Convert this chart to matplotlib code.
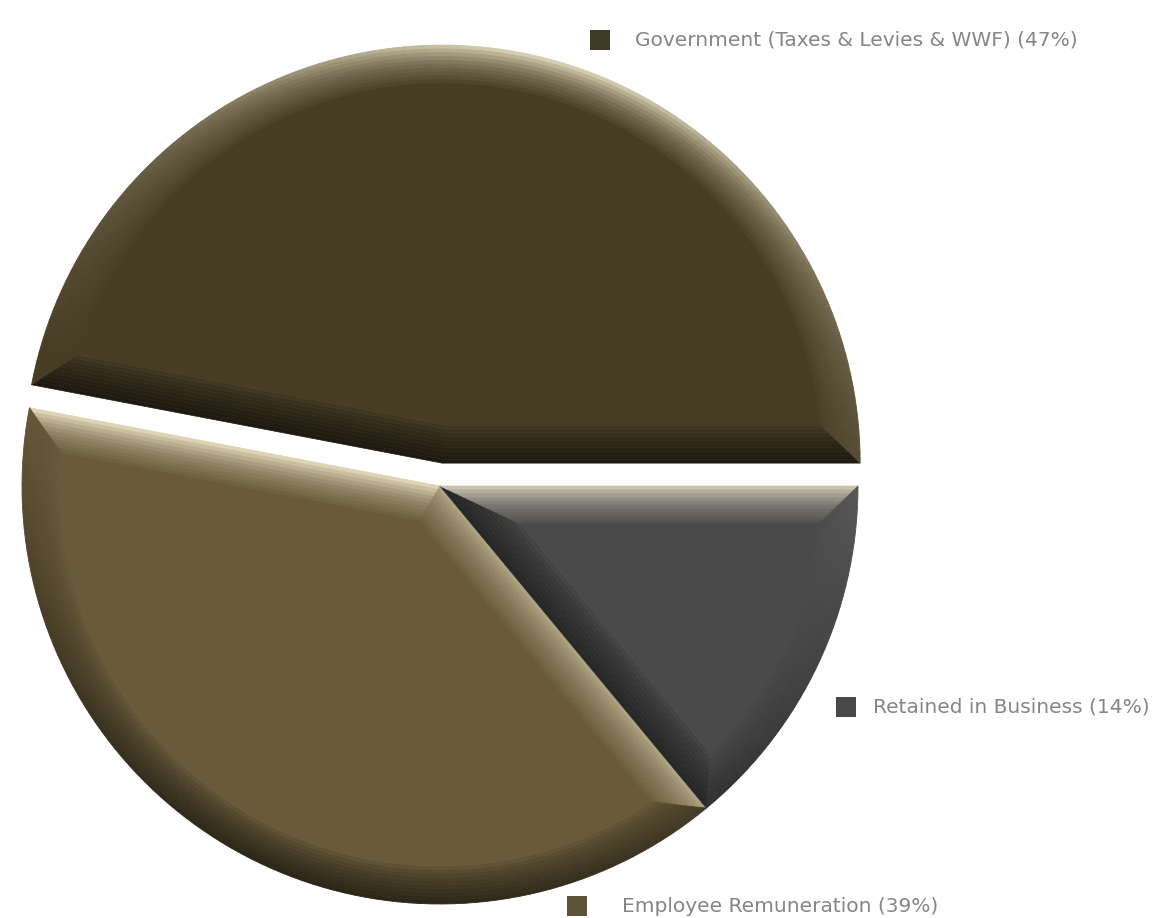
import numpy as np
import matplotlib
matplotlib.use("Agg")
import matplotlib.pyplot as plt
from matplotlib.patches import Polygon, Rectangle
from matplotlib.colors import to_rgb

# ---- data ----
labels = ["Government (Taxes & Levies & WWF) (47%)",
          "Employee Remuneration (39%)",
          "Retained in Business (14%)"]
values = [47, 39, 14]
explode_frac = [0.055, 0.0, 0.0]
colors = ["#473d25", "#695b3a", "#4a4a4b"]
legend_colors = ["#3f3a22", "#5c5338", "#48494b"]

W, H = 1157, 918
fig = plt.figure(figsize=(W / 100, H / 100), dpi=100)
ax = fig.add_axes([0, 0, 1, 1])

center = (440, -486)
radius = 418
wedges, _ = ax.pie(values, colors=colors, startangle=0, counterclock=True,
                   explode=[e * radius for e in explode_frac],
                   center=center, radius=radius,
                   wedgeprops=dict(linewidth=0))
ax.set_xlim(0, W)
ax.set_ylim(-H, 0)
ax.set_aspect("equal")
ax.axis("off")


def unit(a):
    a = np.deg2rad(a)
    return np.array([np.cos(a), np.sin(a)])


def shade(base, normal_deg, strength):
    f = np.cos(np.deg2rad(normal_deg - 75)) * strength
    b = np.array(to_rgb(base))
    if f > 0:
        c = b + (np.array([1.0, 0.97, 0.85]) - b) * (0.30 * f + 0.55 * f ** 4)
    else:
        c = b * (1 + 0.6 * f)
    return np.clip(c, 0, 1)


def inset(c, r, t1, t2, d):
    half = np.deg2rad((t2 - t1) / 2)
    apex = c + d / np.sin(half) * unit((t1 + t2) / 2)
    R = r - d
    dphi = np.rad2deg(np.arcsin(d / R))
    return apex, R, t1 + dphi, t2 - dphi


bevel = 38
layers = 10
for w, base in zip(wedges, colors):
    c = np.array(w.center)
    r = w.r
    t1, t2 = w.theta1, w.theta2
    w.set_visible(False)
    n = max(int((t2 - t1) / 1.5), 4)
    for j in range(layers):
        da = bevel * j / layers
        db = bevel * (j + 1) / layers
        u = (j + 0.5) / layers
        strength = (1 - u) ** 0.6
        aA, RA, a1, a2 = inset(c, r, t1, t2, da)
        aB, RB, b1, b2 = inset(c, r, t1, t2, db)
        col = shade(base, t1 - 90, strength)
        ax.add_patch(Polygon([aA, c + RA * unit(a1), c + RB * unit(b1), aB],
                             closed=True, facecolor=col, edgecolor=col, linewidth=0.5))
        col = shade(base, t2 + 90, strength)
        ax.add_patch(Polygon([aA, c + RA * unit(a2), c + RB * unit(b2), aB],
                             closed=True, facecolor=col, edgecolor=col, linewidth=0.5))
        oa = np.linspace(a1, a2, n + 1)
        ia = np.linspace(b1, b2, n + 1)
        for i in range(n):
            col = shade(base, (oa[i] + oa[i + 1]) / 2, strength)
            ax.add_patch(Polygon([c + RA * unit(oa[i]), c + RA * unit(oa[i + 1]),
                                  c + RB * unit(ia[i + 1]), c + RB * unit(ia[i])],
                                 closed=True, facecolor=col, edgecolor=col,
                                 linewidth=0.6))
    apex, R, p1, p2 = inset(c, r, t1, t2, bevel)
    arc = [c + R * unit(a) for a in np.linspace(p1, p2, 200)]
    ax.add_patch(Polygon([apex] + arc, closed=True, facecolor=base,
                         edgecolor=base, linewidth=0.5))

# ---- legend ----
leg_pos = [(600, -40), (577, -906), (846, -707)]
text_x = [635, 622, 873]
for (x, y), tx, lab, lc in zip(leg_pos, text_x, labels, legend_colors):
    ax.add_patch(Rectangle((x - 10, y - 10), 20, 20, facecolor=lc, edgecolor="none"))
    ax.text(tx, y, lab, fontsize=14.5, color="#858585", va="center", ha="left",
            family="DejaVu Sans")

fig.savefig("out.png", dpi=100, facecolor="white")
